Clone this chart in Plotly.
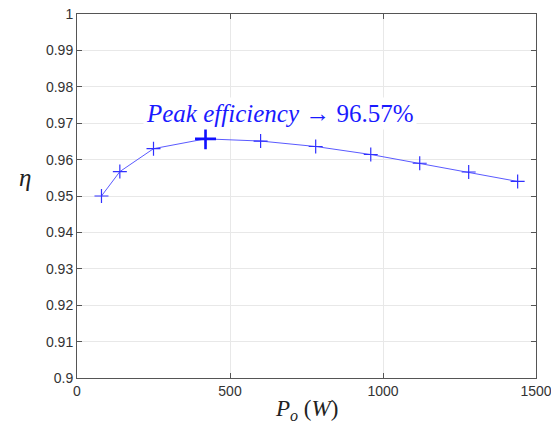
import plotly.graph_objects as go

power_w = [80, 140, 250, 420, 600, 780, 960, 1120, 1280, 1440]
efficiency = [0.950, 0.9567, 0.9630, 0.9657, 0.9651, 0.9636, 0.9614, 0.9590, 0.9566, 0.9540]
peak_x = [420]
peak_y = [0.9657]
peak_label = "<i>Peak efficiency</i> → 96.57%"
x_ticks = [0, 500, 1000, 1500]
y_ticks = [0.9, 0.91, 0.92, 0.93, 0.94, 0.95, 0.96, 0.97, 0.98, 0.99, 1.0]
y_tick_text = ["0.9", "0.91", "0.92", "0.93", "0.94", "0.95", "0.96", "0.97", "0.98", "0.99", "1"]

fig = go.Figure()
fig.add_trace(go.Scatter(
    x=power_w, y=efficiency, mode="lines+markers",
    line=dict(color="#5a5aff", width=1),
    marker=dict(symbol="cross-thin", size=10, line=dict(color="#3030ff", width=1.2)),
    showlegend=False,
))
fig.add_trace(go.Scatter(
    x=peak_x, y=peak_y, mode="markers",
    marker=dict(symbol="cross-thin", size=15, line=dict(color="#1010ff", width=2.6)),
    showlegend=False,
))

axis_common = dict(
    showline=True, linecolor="#555555", linewidth=1, mirror="ticks",
    ticks="inside", ticklen=5, tickcolor="#555555", automargin=False,
    ticklabeloverflow="allow",
    showgrid=True, gridcolor="#e8e8e8", gridwidth=1, zeroline=False,
    tickfont=dict(family="Liberation Sans, Arial", size=14, color="#333333"),
)

fig.update_layout(
    width=551, height=424,
    margin=dict(l=77, r=15, t=14, b=46),
    paper_bgcolor="white", plot_bgcolor="white",
    xaxis=dict(range=[0, 1500], tickvals=x_ticks, **axis_common),
    yaxis=dict(range=[0.9, 1.0], tickvals=y_ticks, ticktext=y_tick_text, **axis_common),
    annotations=[
        dict(x=663, y=0.9727, xref="x", yref="y", text=peak_label, showarrow=False,
             font=dict(family="Liberation Serif, serif", size=25, color="#1a1aff"),
             bgcolor="white", borderpad=2),
        dict(x=0.5, y=-0.087, xref="paper", yref="paper", yanchor="middle",
             text="<i>P</i><sub><i>o</i></sub> (<i>W</i>)", showarrow=False,
             font=dict(family="Liberation Serif, serif", size=23, color="#222222")),
        dict(x=-0.13, y=0.55, xref="paper", yref="paper", text="<i>η</i>", showarrow=False,
             font=dict(family="Liberation Serif, serif", size=25, color="#222222")),
    ],
)

fig.write_html("out.html")
